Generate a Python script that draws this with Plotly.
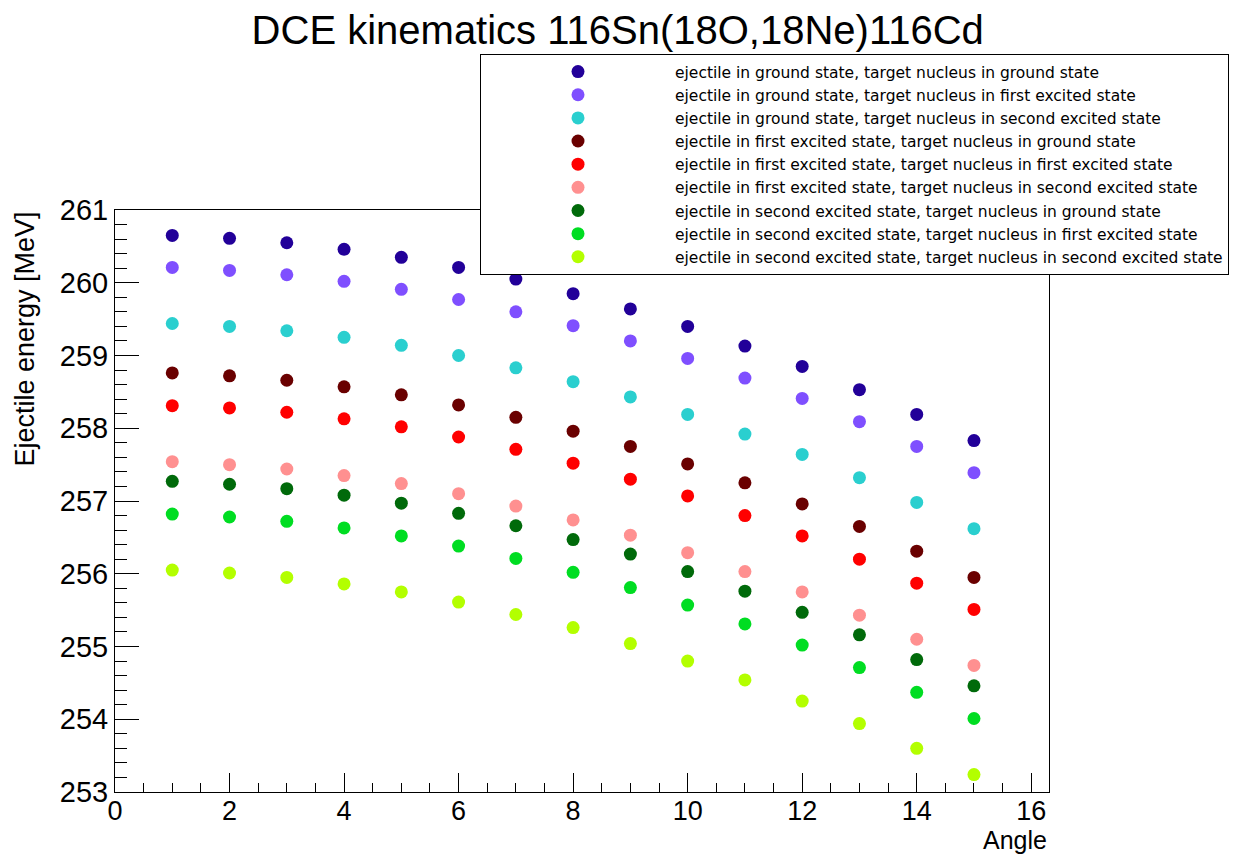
import plotly.graph_objects as go

angles = list(range(1, 16))

names = [
    "ejectile in ground state, target nucleus in ground state",
    "ejectile in ground state, target nucleus in first excited state",
    "ejectile in ground state, target nucleus in second excited state",
    "ejectile in first excited state, target nucleus in ground state",
    "ejectile in first excited state, target nucleus in first excited state",
    "ejectile in first excited state, target nucleus in second excited state",
    "ejectile in second excited state, target nucleus in ground state",
    "ejectile in second excited state, target nucleus in first excited state",
    "ejectile in second excited state, target nucleus in second excited state",
]

colors = ["#220099", "#7f4fff", "#2acfcf", "#6a0000", "#ff0000",
          "#ff9090", "#006a0a", "#00dd22", "#b3ff00"]

e_gs_gs = [260.65, 260.61, 260.55, 260.46, 260.35, 260.21, 260.05, 259.85, 259.64, 259.40, 259.13, 258.85, 258.53, 258.19, 257.83]
e_gs_1 = [260.21, 260.17, 260.11, 260.02, 259.91, 259.77, 259.60, 259.41, 259.20, 258.96, 258.69, 258.41, 258.09, 257.75, 257.39]
e_gs_2 = [259.44, 259.40, 259.34, 259.25, 259.14, 259.00, 258.83, 258.64, 258.43, 258.19, 257.92, 257.64, 257.32, 256.98, 256.62]
e_1_gs = [258.76, 258.72, 258.66, 258.57, 258.46, 258.32, 258.15, 257.96, 257.75, 257.51, 257.25, 256.96, 256.65, 256.31, 255.95]
e_1_1 = [258.31, 258.28, 258.22, 258.13, 258.02, 257.88, 257.71, 257.52, 257.30, 257.07, 256.80, 256.52, 256.20, 255.87, 255.51]
e_1_2 = [257.54, 257.50, 257.44, 257.35, 257.24, 257.10, 256.93, 256.74, 256.53, 256.29, 256.03, 255.75, 255.43, 255.10, 254.74]
e_2_gs = [257.27, 257.23, 257.17, 257.08, 256.97, 256.83, 256.66, 256.47, 256.27, 256.03, 255.76, 255.47, 255.16, 254.82, 254.46]
e_2_1 = [256.82, 256.78, 256.72, 256.63, 256.52, 256.38, 256.21, 256.02, 255.81, 255.57, 255.31, 255.02, 254.71, 254.37, 254.01]
e_2_2 = [256.05, 256.01, 255.95, 255.86, 255.75, 255.61, 255.44, 255.26, 255.04, 254.80, 254.54, 254.25, 253.94, 253.60, 253.24]

series = [e_gs_gs, e_gs_1, e_gs_2, e_1_gs, e_1_1, e_1_2, e_2_gs, e_2_1, e_2_2]

FONT = "Liberation Sans, Arial, Helvetica, sans-serif"
LEGFONT = "DejaVu Sans, Liberation Sans, sans-serif"

fig = go.Figure()
for name, col, vals in zip(names, colors, series):
    fig.add_trace(go.Scatter(
        x=angles, y=vals, mode="markers", name=name,
        marker=dict(color=col, size=13, line=dict(width=0)),
    ))

W, H = 1253, 856
ml, mr, mt, mb = 115, 204, 210, 64
pw, ph = W - ml - mr, H - mt - mb

fig.update_layout(
    width=W, height=H,
    margin=dict(l=ml, r=mr, t=mt, b=mb, pad=0),
    paper_bgcolor="white", plot_bgcolor="white",
    font=dict(family=FONT, color="black"),
    title=dict(text="DCE kinematics 116Sn(18O,18Ne)116Cd",
               font=dict(size=40, family=FONT, color="black"),
               x=0.493, xanchor="center", y=0.965, yanchor="middle"),
    showlegend=True,
    legend=dict(
        x=(480 - ml) / pw, y=(H - mb - 54) / ph,
        xanchor="left", yanchor="top",
        bordercolor="black", borderwidth=1, bgcolor="white",
        font=dict(size=15.5, family=LEGFONT, color="black"),
        itemwidth=184, tracegroupgap=0,
    ),
    xaxis=dict(
        range=[0, 16.31], tick0=0, dtick=2,
        ticks="inside", ticklen=19, tickwidth=1, tickcolor="black",
        minor=dict(dtick=0.5, ticks="inside", ticklen=9, tickcolor="black", showgrid=False),
        showline=True, linecolor="black", linewidth=1, mirror=True,
        showgrid=False, zeroline=False,
        tickfont=dict(size=27, family=FONT, color="black"),
        ticklabelstandoff=-5,
    ),
    yaxis=dict(
        range=[253, 261], tick0=253, dtick=1,
        ticks="inside", ticklen=24, tickwidth=1, tickcolor="black",
        minor=dict(dtick=0.2, ticks="inside", ticklen=12, tickcolor="black", showgrid=False),
        showline=True, linecolor="black", linewidth=1, mirror=True,
        showgrid=False, zeroline=False,
        tickfont=dict(size=29, family=FONT, color="black"),
    ),
    annotations=[
        dict(text="Angle", xref="paper", yref="paper", x=1.0, y=(792 - 856) / ph,
             xanchor="right", yanchor="bottom", showarrow=False,
             font=dict(size=25, family=FONT, color="black")),
        dict(text="Ejectile energy [MeV]", xref="paper", yref="paper",
             x=(24 - ml) / pw, y=1.0, xanchor="center", yanchor="top", textangle=-90,
             showarrow=False, font=dict(size=27, family=FONT, color="black")),
    ],
)

fig.write_html("out.html")
